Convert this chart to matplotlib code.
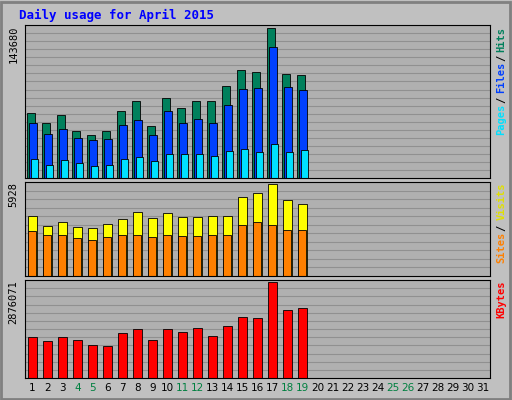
import matplotlib
matplotlib.use("Agg")
import matplotlib.pyplot as plt
from matplotlib.patches import Rectangle

days = list(range(1, 20))
all_days = list(range(1, 32))
weekend = [4, 5, 11, 12, 18, 19, 25, 26]
hits = [62140,52430,60200,44670,40780,44670,64090,73800,49520,76710,67000,73800,73800,88360,103900,101960,143680,100010,99040]
files = [52430,41750,46610,38840,36900,37870,50490,55350,40780,64090,52430,56320,52430,69910,85450,86420,125260,87390,84480]
pages = [18450,12620,17480,14570,11650,12620,18450,20390,16510,23300,23300,23300,21360,26220,28160,25250,33010,25250,27190]
visits = [3866,3222,3480,3158,3093,3351,3673,4124,3737,4060,3802,3802,3866,3866,5091,5349,5928,4898,4640]
sites = [2900,2642,2642,2449,2320,2513,2642,2642,2513,2642,2578,2578,2642,2642,3287,3480,3287,2964,2964]
kbytes = [1219000,1094000,1219000,1125000,1000000,969000,1344000,1469000,1125000,1469000,1376000,1501000,1250000,1563000,1813000,1782000,2876071,2032000,2095000]

fig = plt.figure(figsize=(5.12, 4.0), dpi=100, facecolor="#C0C0C0")
fig.patches.append(Rectangle((0.002, 0.002), 0.994, 0.994, transform=fig.transFigure,
                             fill=False, edgecolor="#808080", lw=2))
fig.text(0.037, 0.962, "Daily usage for April 2015", color="#0000FF",
         family="DejaVu Sans Mono", weight="bold", fontsize=9, va="center")

CHAR_PX = 7.0

def panel(rect, series, maxv, label_parts, ngrid):
    ax = fig.add_axes(rect)
    ax.set_facecolor("#B0B0B0")
    for i in range(1, ngrid + 1):
        ax.axhline(maxv * 1.02 * i / ngrid, color="#909090", lw=0.8, zorder=0)
    for vals, off, w, col in series:
        ax.bar([d + off for d in days], vals, width=w, color=col, edgecolor="black", lw=0.6, zorder=2)
    ax.set_xlim(0.5, 31.5)
    ax.set_ylim(0, maxv * 1.02)
    ax.set_xticks([]); ax.set_yticks([])
    for s in ax.spines.values():
        s.set_color("black")
    ax.text(-0.025, 1.0, str(maxv), transform=ax.transAxes, rotation=90,
            ha="center", va="top", family="DejaVu Sans Mono", fontsize=7.5)
    # right label, from top downward (text reads bottom to top)
    h_px = rect[3] * 400
    y = 0.99
    for txt, col in reversed(label_parts):
        ax.text(1.025, y, txt, transform=ax.transAxes, rotation=90, color=col,
                ha="center", va="top", family="DejaVu Sans Mono", fontsize=7.5, weight="bold")
        y -= len(txt) * CHAR_PX / h_px
    return ax

panel([0.049, 0.555, 0.908, 0.382],
      [(hits, -0.12, 0.55, "#00805C"), (files, 0.02, 0.55, "#0040FF"), (pages, 0.12, 0.45, "#00E0FF")],
      143680, [("Pages", "#00E0FF"), ("/", "black"), ("Files", "#0040FF"), ("/", "black"), ("Hits", "#00805C")], 19)
panel([0.049, 0.31, 0.908, 0.235],
      [(visits, 0.0, 0.6, "#FFFF00"), (sites, -0.05, 0.55, "#FF8000")],
      5928, [("Sites", "#FF8000"), ("/", "black"), ("Visits", "#E0E000")], 11)
ax3 = panel([0.049, 0.055, 0.908, 0.245],
      [(kbytes, 0.0, 0.65, "#FF0000")],
      2876071, [("KBytes", "#FF0000")], 12)
for d in all_days:
    ax3.text(d, -0.1, str(d), transform=ax3.get_xaxis_transform(), ha="center", va="center",
             fontsize=7.5, color="#008040" if d in weekend else "black")
fig.savefig("out.png", dpi=100, facecolor=fig.get_facecolor())
